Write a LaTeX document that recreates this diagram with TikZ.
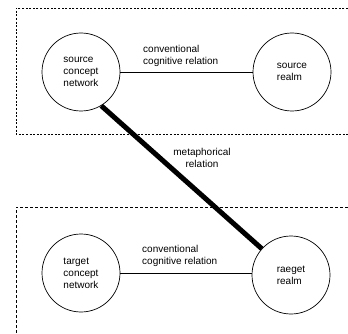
\documentclass[tikz,border=0pt]{standalone}
\usepackage{fontspec}
\setmainfont{Liberation Sans}
\tikzset{
 realm/.style={draw,circle,line width=0.7pt,minimum size=78pt,inner sep=0pt,align=left,font=\fontsize{10}{12}\selectfont},
 lbl/.style={align=left,inner sep=1pt,font=\fontsize{10}{12}\selectfont},
 boxline/.style={line width=0.8pt}
}
\begin{document}
\begin{tikzpicture}[x=1pt,y=-1pt]
 \useasboundingbox (0,0) rectangle (348,334);
 \draw[boxline,dash pattern=on 2pt off 1.6pt](348,8)--(16,8)--(16,134)--(348,134);
 \draw[boxline,dash pattern=on 3pt off 2pt](348,207)--(16,207)--(16,334);
 \node[realm](scn) at (81,72) {source\\concept\\network};
 \node[realm](sr) at (292,72) {source\\realm};
 \node[realm](tcn) at (81,273) {target\\concept\\network};
 \node[realm](tr) at (291,275) {raeget\\realm};
 \draw[line width=0.7pt](scn.east)--(sr.west|-scn.east);
 \draw[line width=0.7pt](tcn.east)--(tr.west|-tcn.east);
 \node[lbl,anchor=south west](conv1) at (142,68) {conventional\\cognitive relation};
 \node[lbl,anchor=south west](conv2) at (141,268) {conventional\\cognitive relation};
 \draw[line width=5pt](scn.301)--(tr.138);
 \node[lbl,align=center](meta) at (202,158) {metaphorical\\relation};
\end{tikzpicture}
\end{document}
